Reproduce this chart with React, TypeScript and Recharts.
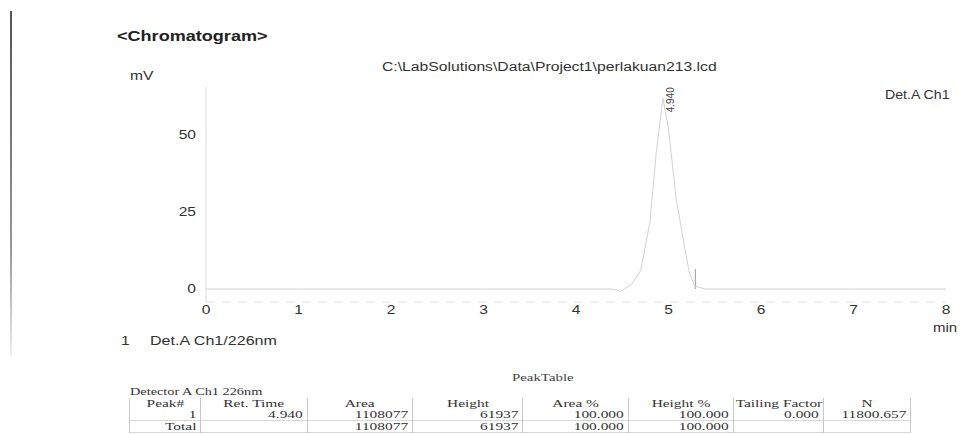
import React from "react";
import {
  LineChart,
  XAxis,
  YAxis,
  Line,
  ReferenceLine,
  ReferenceDot,
} from "recharts";

// retention time (min) and detector signal (mV)
const retTime = [0, 1, 2, 3, 4, 4.4, 4.48, 4.6, 4.7, 4.8, 4.87, 4.94, 5.0, 5.08, 5.16, 5.22, 5.28, 5.4, 6, 7, 8];
const signal = [0, 0, 0, 0, 0, 0, -0.8, 1.5, 6, 22, 45, 61.937, 52, 30, 16, 6, 1, 0, 0, 0, 0];

const xTicks = [0, 1, 2, 3, 4, 5, 6, 7, 8];
const yTicks = [0, 25, 50];

const peakTime = 4.94;
const peakHeight = 61.937;
const peakName = "4.940";
const markerTime = 5.29;
const markerTop = 6.5;

const tableHeader = ["Peak#", "Ret. Time", "Area", "Height", "Area %", "Height %", "Tailing Factor", "N"];
const peakRow = ["1", "4.940", "1108077", "61937", "100.000", "100.000", "0.000", "11800.657"];
const totalRow = ["Total", "", "1108077", "61937", "100.000", "100.000", "", ""];
const colWidths = [71, 107, 105, 110, 106, 105, 90, 87];

const data = retTime.map((t, i) => ({ t, mv: signal[i] }));

const sans = "'Liberation Sans', Arial, sans-serif";
const serif = "'Liberation Serif', 'Times New Roman', serif";

// the scanned printout is stretched sideways, so text gets a horizontal scale
const Txt = ({ x, y, size = 12, bold = false, sx = 1.3, children, color = "#333", font = sans }: any) => (
  <div
    style={{
      position: "absolute",
      left: x,
      top: y,
      fontFamily: font,
      fontSize: size,
      fontWeight: bold ? 700 : 400,
      color,
      whiteSpace: "nowrap",
      lineHeight: 1,
      transform: `scaleX(${sx})`,
      transformOrigin: "left center",
    }}
  >
    {children}
  </div>
);

const XTick = (props: any) => {
  const { x, y, payload } = props;
  return (
    <text
      x={0}
      y={0}
      transform={`translate(${x}, ${y + 12}) scale(1.3, 1)`}
      textAnchor="middle"
      fontFamily={sans}
      fontSize={12}
      fill="#333"
    >
      {payload.value}
    </text>
  );
};

const YTick = (props: any) => {
  const { x, y, payload } = props;
  return (
    <text
      x={0}
      y={0}
      transform={`translate(${x}, ${y + 4}) scale(1.3, 1)`}
      textAnchor="end"
      fontFamily={sans}
      fontSize={12}
      fill="#333"
    >
      {payload.value}
    </text>
  );
};

const PeakLabel = (props: any) => {
  const { cx, cy } = props;
  return (
    <text
      x={0}
      y={0}
      transform={`translate(${cx + 11}, ${cy + 14}) rotate(-90)`}
      fontFamily={sans}
      fontSize={10}
      fill="#444"
      textAnchor="start"
    >
      {peakName}
    </text>
  );
};

const cell = (w: number, align: string, top: boolean) => ({
  width: w,
  textAlign: align as any,
  padding: "0 4px",
  borderLeft: "1px solid #c8c8c8",
  borderTop: top ? "1px solid #d8d8d8" : "none",
  height: 11,
  lineHeight: "11px",
  boxSizing: "border-box" as any,
});

const Stretch = ({ align, children }: any) => (
  <span
    style={{
      display: "inline-block",
      transform: "scaleX(1.4)",
      transformOrigin: align === "right" ? "right center" : "center center",
    }}
  >
    {children}
  </span>
);

export default function App() {
  return (
    <div
      style={{
        position: "absolute",
        left: 0,
        top: 0,
        width: 960,
        height: 435,
        background: "#fff",
        overflow: "hidden",
      }}
    >
      <div style={{ position: "absolute", left: 10, top: 11, width: 2, height: 345, background: "linear-gradient(#555, #999 70%, #eee)" }} />

      <Txt x={117} y={29} size={14} bold sx={1.29} color="#222">{"<Chromatogram>"}</Txt>
      <Txt x={382} y={61} size={12} sx={1.31}>{"C:\\LabSolutions\\Data\\Project1\\perlakuan213.lcd"}</Txt>
      <Txt x={130} y={70} size={12}>mV</Txt>
      <Txt x={885} y={89} size={12} sx={1.18}>Det.A Ch1</Txt>
      <Txt x={933} y={322} size={12} sx={1.25}>min</Txt>
      <Txt x={121} y={335} size={12}>1</Txt>
      <Txt x={150} y={335} size={12} sx={1.34}>Det.A Ch1/226nm</Txt>

      <div style={{ position: "absolute", left: 0, top: 0 }}>
        <LineChart
          width={960}
          height={435}
          data={data}
          margin={{ top: 87, right: 14, bottom: 103, left: 166 }}
        >
          <XAxis
            dataKey="t"
            type="number"
            domain={[0, 8]}
            ticks={xTicks}
            interval={0}
            stroke="#e0e0e0"
            strokeDasharray="8 8"
            tickLine={false}
            tickSize={0}
            tickMargin={0}
            tick={<XTick />}
          />
          <YAxis
            type="number"
            domain={[-4.2, 65.6]}
            ticks={yTicks}
            width={40}
            allowDataOverflow
            stroke="#dcdcdc"
            tickLine={false}
            tickSize={0}
            tickMargin={10}
            tick={<YTick />}
          />
          <ReferenceLine
            segment={[
              { x: markerTime, y: 0 },
              { x: markerTime, y: markerTop },
            ]}
            stroke="#999"
            strokeWidth={1}
          />
          <Line
            dataKey="mv"
            type="linear"
            stroke="#d2d2d2"
            strokeWidth={1}
            dot={false}
            isAnimationActive={false}
          />
          <ReferenceDot x={peakTime} y={peakHeight} r={0} shape={PeakLabel} />
        </LineChart>
      </div>

      <Txt x={512} y={372} size={11} sx={1.35} font={serif} color="#444">PeakTable</Txt>
      <Txt x={130} y={386} size={11} sx={1.3} font={serif}>Detector A Ch1 226nm</Txt>
      <table
        style={{
          position: "absolute",
          left: 129,
          top: 398,
          borderCollapse: "collapse",
          fontFamily: serif,
          fontSize: 11,
          color: "#333",
          borderRight: "1px solid #c8c8c8",
          borderBottom: "1px solid #d8d8d8",
        }}
      >
        <tbody>
          <tr>
            {tableHeader.map((h, i) => (
              <td key={h} style={cell(colWidths[i], "center", false)}>
                <Stretch align="center">{h}</Stretch>
              </td>
            ))}
          </tr>
          <tr>
            {peakRow.map((v, i) => (
              <td key={i} style={cell(colWidths[i], "right", false)}>
                <Stretch align="right">{v}</Stretch>
              </td>
            ))}
          </tr>
          <tr>
            {totalRow.map((v, i) => (
              <td key={i} style={cell(colWidths[i], "right", true)}>
                <Stretch align="right">{v}</Stretch>
              </td>
            ))}
          </tr>
        </tbody>
      </table>
    </div>
  );
}
